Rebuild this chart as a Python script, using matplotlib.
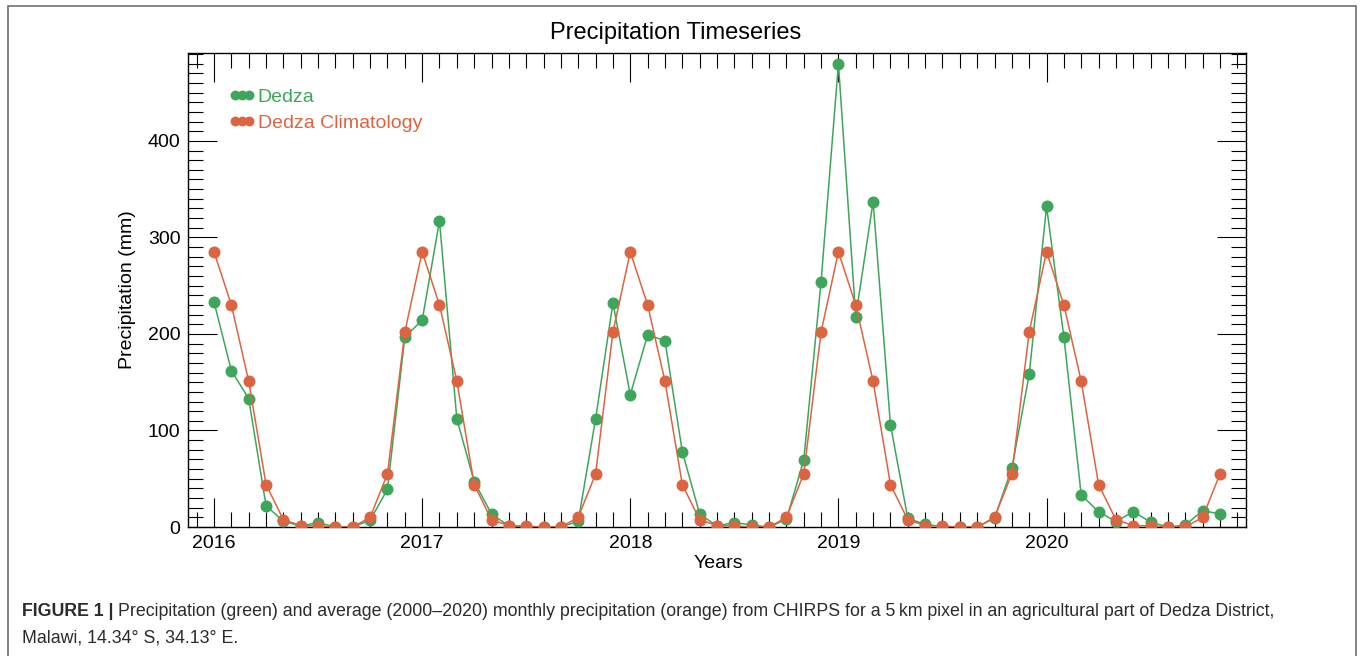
import matplotlib
matplotlib.use("Agg")
import matplotlib.pyplot as plt
import numpy as np
from matplotlib.ticker import MultipleLocator, FixedLocator
from matplotlib.patches import Rectangle

# ---------------- data ----------------
start_year = 2016
n_months = 59  # Jan 2016 .. Nov 2020

dedza = [
    233, 162, 133, 22, 6, 1, 4.5, 0, 0, 7, 39, 197,        # 2016
    214, 317, 112, 47, 13.5, 1, 0, 0, 0, 6, 112, 232,      # 2017
    137, 199, 193, 78, 13.5, 1, 4.6, 2, 0, 8, 69, 254,     # 2018
    480, 218, 337, 106, 9, 2.8, 0.5, 0, 0, 9, 61, 158,     # 2019
    332, 197, 33, 16, 5.5, 16, 5, 0, 2, 17, 13.5,          # 2020
]
climatology = [
    285, 230, 151, 44, 7.5, 1.5, 1, 0, 0, 10, 55, 202,
    285, 230, 151, 44, 7.5, 1.5, 1, 0, 0, 10, 55, 202,
    285, 230, 151, 44, 7.5, 1.5, 1, 0, 0, 10, 55, 202,
    285, 230, 151, 44, 7.5, 1.5, 1, 0, 0, 10, 55, 202,
    285, 230, 151, 44, 7.5, 1.5, 1, 0, 0, 10, 55,
]
year_ticks = [2016, 2017, 2018, 2019, 2020]
series_labels = ["Dedza", "Dedza Climatology"]

title = "Precipitation Timeseries"
xlabel = "Years"
ylabel = "Precipitation (mm)"
caption_bold = "FIGURE 1 | "
caption_line1 = ("Precipitation (green) and average (2000\u20132020) monthly precipitation (orange) "
                 "from CHIRPS for a 5\u2009km pixel in an agricultural part of Dedza District,")
caption_line2 = "Malawi, 14.34\u00b0 S, 34.13\u00b0 E."

# ---------------- style ----------------
GREEN = "#3da65a"
ORANGE = "#dc6440"
plt.rcParams["font.family"] = ["Liberation Sans", "DejaVu Sans"]

W, H, DPI = 1360, 656, 100
fig = plt.figure(figsize=(W / DPI, H / DPI), dpi=DPI)

def fx(px):
    return px / W

def fy(py):
    return 1 - py / H

ax = fig.add_axes([fx(188), fy(527), fx(1246) - fx(188), fy(53) - fy(527)])

x = start_year + np.arange(n_months) / 12.0
ax.plot(x, dedza, "-o", color=GREEN, lw=1.1, ms=7.6, label=series_labels[0], zorder=3)
ax.plot(x, climatology, "-o", color=ORANGE, lw=1.1, ms=7.6, label=series_labels[1], zorder=4)

ax.set_xlim(start_year - 1.5 / 12, year_ticks[-1] + 11.5 / 12)
ax.set_ylim(0, 491)

ax.xaxis.set_major_locator(FixedLocator(year_ticks))
ax.set_xticklabels([str(y) for y in year_ticks])
ax.xaxis.set_minor_locator(MultipleLocator(1 / 12))
ax.yaxis.set_major_locator(MultipleLocator(100))
ax.yaxis.set_minor_locator(MultipleLocator(10))

ax.tick_params(which="both", direction="in", top=True, right=True, color="black", width=0.8)
ax.tick_params(which="major", length=21, labelsize=14, pad=5.5)
ax.tick_params(which="minor", length=10.5)
for s in ax.spines.values():
    s.set_linewidth(1.0)

leg = ax.legend(loc="upper left", bbox_to_anchor=((229 - 188) / 1058, (527 - 88) / 474),
                numpoints=3, handlelength=1.32, handletextpad=0.15, borderpad=0,
                borderaxespad=0, frameon=False, fontsize=14, markerscale=0.8,
                labelspacing=0.45, labelcolor="linecolor")

fig.text(fx(676), fy(33), title, ha="center", va="center", fontsize=17)
fig.text(fx(718), fy(563), xlabel, ha="center", va="center", fontsize=14)
fig.text(fx(127), fy(290), ylabel, ha="center", va="center", rotation=90, fontsize=14)

# outer frame (open at bottom)
fig.add_artist(Rectangle((fx(8), -0.05), fx(1356) - fx(8), fy(6) + 0.05,
                         transform=fig.transFigure, fill=False,
                         edgecolor="#6f6f6f", lw=1.2))

# caption
cap_color = "#2b2b2b"
cap_fs = 12.8
tb = fig.text(fx(22), fy(612), caption_bold, ha="left", va="center", fontsize=cap_fs,
              fontweight="bold", color=cap_color)
fig.canvas.draw()
bb = tb.get_window_extent()
fig.text(bb.x1 / W, fy(612), caption_line1, ha="left", va="center", fontsize=cap_fs, color=cap_color)
fig.text(fx(22), fy(638), caption_line2, ha="left", va="center", fontsize=cap_fs, color=cap_color)

fig.savefig("out.png", dpi=DPI)
